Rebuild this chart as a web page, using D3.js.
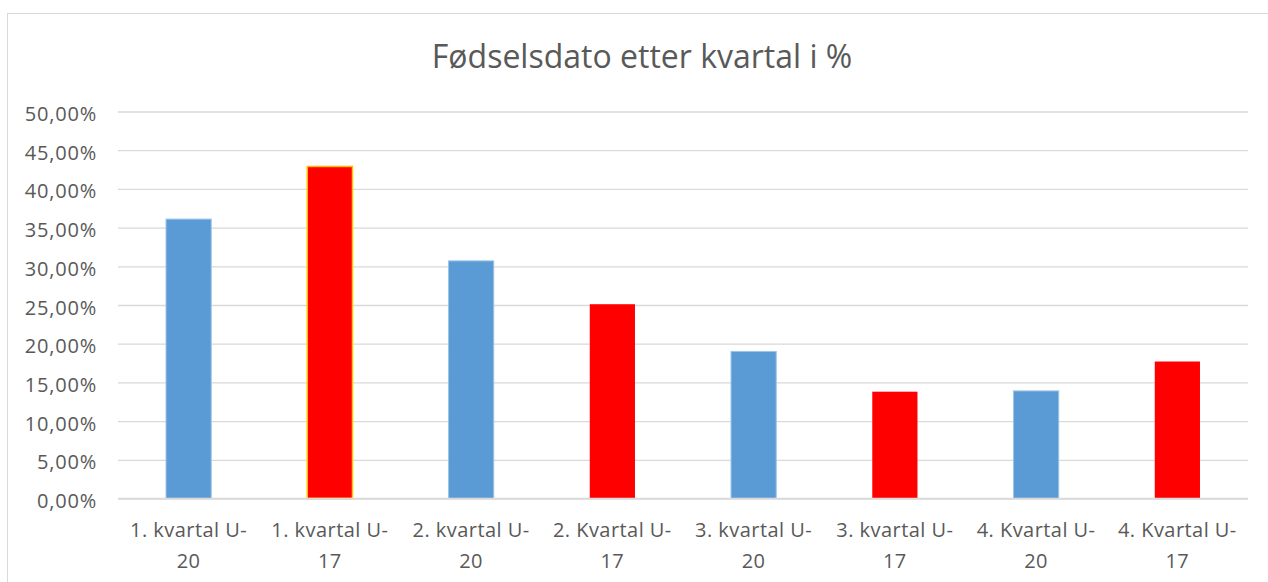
<!DOCTYPE html>
<html>
<head>
<meta charset="utf-8">
<script src="https://cdn.jsdelivr.net/npm/d3@7/dist/d3.min.js"></script>
<style>
  html, body { margin: 0; padding: 0; background: #fff; }
  svg { display: block; }
  text { font-family: "Open Sans", "Noto Sans", sans-serif; fill: #595959; }
</style>
</head>
<body>
<svg id="chart" width="1268" height="582"></svg>
<script>
const title = "Fødselsdato etter kvartal i %";
const categories = ["1. kvartal U-20", "1. kvartal U-17", "2. kvartal U-20", "2. Kvartal U-17",
                    "3. kvartal U-20", "3. kvartal U-17", "4. Kvartal U-20", "4. Kvartal U-17"];
const values = [36.1, 42.9, 30.7, 25.1, 19.0, 13.8, 13.9, 17.7];
const groups = ["U-20", "U-17", "U-20", "U-17", "U-20", "U-17", "U-20", "U-17"];
const yTicks = [0, 5, 10, 15, 20, 25, 30, 35, 40, 45, 50];

const svg = d3.select("#chart");
const W = 1268, H = 582;
const m = { left: 118, right: 1248, top: 111.5, bottom: 498.5 };

// frame
svg.append("rect").attr("x", 7.5).attr("y", 13.5).attr("width", W + 10).attr("height", H + 10)
  .attr("fill", "#fff").attr("stroke", "#D9D9D9").attr("stroke-width", 1);

const x = d3.scaleBand().domain(categories).range([m.left, m.right]).paddingInner(0.68).paddingOuter(0.34);
const y = d3.scaleLinear().domain([0, 50]).range([m.bottom, m.top]);

// gridlines + y labels
const yAxis = d3.axisLeft(y).tickValues(yTicks).tickSize(-(m.right - m.left)).tickPadding(21)
  .tickFormat(d => d3.format(".2f")(d).replace(".", ",") + "%");
const gy = svg.append("g").attr("transform", `translate(${m.left},0)`).call(yAxis);
gy.select(".domain").remove();
gy.selectAll(".tick line").attr("stroke", "#D9D9D9").attr("stroke-width", 1.3);
gy.selectAll(".tick text").attr("font-size", 20).attr("fill", "#595959")
  .style("font-family", '"Open Sans", sans-serif').style("letter-spacing", "0.8px").attr("dy", "0.45em");

// bars
const fillFor = g => g === "U-20" ? "#5B9BD5" : "#FF0000";
svg.append("g").selectAll("rect").data(categories).join("rect")
  .attr("x", d => x(d))
  .attr("y", (d, i) => y(values[i]))
  .attr("width", x.bandwidth())
  .attr("height", (d, i) => y(0) - y(values[i]))
  .attr("fill", (d, i) => fillFor(groups[i]))
  .attr("stroke", (d, i) => i === 1 ? "#FFC000" : (groups[i] === "U-20" ? "#9DC3E6" : "none"))
  .attr("stroke-width", (d, i) => i === 1 ? 1.5 : 1);

// baseline
svg.append("line").attr("x1", m.left).attr("x2", m.right).attr("y1", y(0)).attr("y2", y(0))
  .attr("stroke", "#D9D9D9").attr("stroke-width", 1.3);

// x labels
const xl = svg.append("g").selectAll("text").data(categories).join("text")
  .attr("text-anchor", "middle").attr("font-size", 20).attr("fill", "#595959")
  .style("letter-spacing", "0.45px");
xl.each(function(d) {
  const idx = d.lastIndexOf("-");
  const l1 = d.slice(0, idx + 1), l2 = d.slice(idx + 1);
  const cx = x(d) + x.bandwidth() / 2;
  const t = d3.select(this);
  t.append("tspan").attr("x", cx).attr("y", 537).text(l1);
  t.append("tspan").attr("x", cx).attr("y", 568).text(l2);
});

// title
svg.append("text").attr("x", 642).attr("y", 68).attr("text-anchor", "middle")
  .attr("font-size", 32).attr("fill", "#595959").text(title);
</script>
</body>
</html>
